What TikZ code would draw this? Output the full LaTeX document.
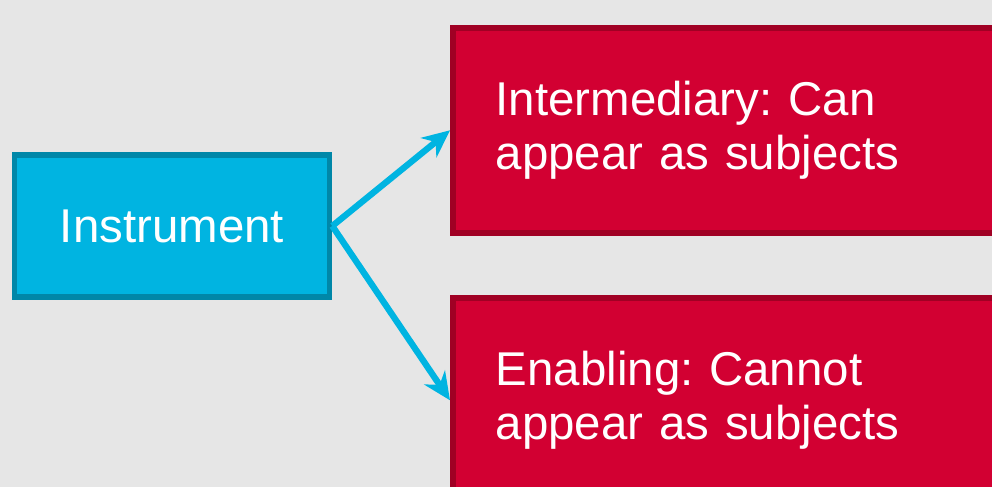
\documentclass[tikz,border=0pt]{standalone}
\usepackage{fontspec}
\setmainfont{Liberation Sans}
\usetikzlibrary{arrows.meta, positioning}
\usepackage{xcolor}
\definecolor{bggray}{HTML}{E6E6E6}
\definecolor{instfill}{HTML}{00B4E1}
\definecolor{instline}{HTML}{0087A8}
\definecolor{kindfill}{HTML}{D20032}
\definecolor{kindline}{HTML}{A00024}
\frenchspacing

\begin{document}
\begin{tikzpicture}[x=0.02cm, y=-0.02cm,
  box/.style={draw, line width=3.2pt, text=white, font=\fontsize{27}{31}\selectfont},
  kind/.style={fill=kindfill, draw=kindline, minimum height=4.1cm, text width=10.1cm, inner xsep=0.86cm, align=left},
  link/.style={draw=instfill, line width=3.6pt, -{Stealth[length=0.55cm, width=0.5cm]}}]
\clip (0,0) rectangle (992,487);
\fill[bggray] (0,0) rectangle (992,487);

% Instrument node
\node[box, fill=instfill, draw=instline, minimum width=6.3cm, minimum height=2.84cm] (instr) at (172,226) {Instrument};

% Kind nodes
\node[box, kind, anchor=north west] (interm) at (450,25) {Intermediary: Can\\appear as subjects};
\node[box, kind, anchor=north west] (enabl) at (450,295) {Enabling: Cannot\\appear as subjects};

% Arrows from instrument to kinds
\draw[link] (instr.east) -- (interm.west);
\draw[link] (instr.east) -- (enabl.west);
\end{tikzpicture}
\end{document}
